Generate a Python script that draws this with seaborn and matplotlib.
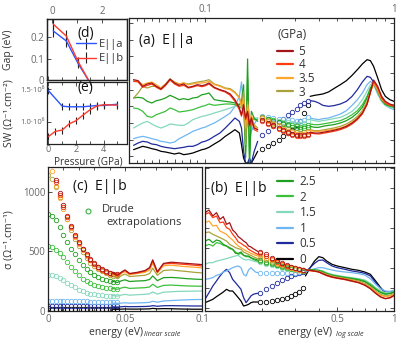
import numpy as np
import pandas as pd
import matplotlib
matplotlib.use("Agg")
import matplotlib.pyplot as plt
import seaborn as sns
from matplotlib.lines import Line2D
from matplotlib.ticker import FixedLocator, NullFormatter, FixedFormatter, MultipleLocator

sns.set_theme(style="ticks")
plt.rcParams['font.family'] = ['Open Sans', 'DejaVu Sans']

# ---------------- data ----------------
pressures = ['0', '0.5', '1', '1.5', '2', '2.5', '3', '3.5', '4', '5']
colors = {'0': '#000000', '0.5': '#1f2a9c', '1': '#6fb6f2', '1.5': '#86d8bc',
          '2': '#3cbf3c', '2.5': '#1f9f1f', '3': '#a9a23c', '3.5': '#ffa62b',
          '4': '#ff3b12', '5': '#a3141a'}

# (a) E||a : measured part (low energy, incl. opaque window)
E_a1 = [0.053, 0.056, 0.059, 0.062, 0.065, 0.068, 0.071, 0.074, 0.077, 0.080, 0.083, 0.086,
        0.089, 0.092, 0.095, 0.098, 0.105, 0.112, 0.120, 0.128, 0.136, 0.144, 0.152,
        0.156, 0.160, 0.164, 0.168, 0.172, 0.176, 0.182, 0.190]
sig_a1 = {
    '5':   [250, 247, 230, 237, 240, 230, 222, 235, 252, 240, 233, 237, 227, 230, 235, 232, 240, 227, 220, 215, 207, 190, 165, 145, 175, 135, 155, 115, 135, 105, 100],
    '4':   [245, 243, 227, 233, 237, 227, 220, 232, 249, 237, 230, 233, 225, 228, 232, 229, 237, 225, 218, 213, 203, 185, 160, 140, 170, 130, 150, 110, 130, 100, 95],
    '3.5': [247, 245, 235, 240, 243, 235, 225, 237, 250, 243, 237, 240, 235, 237, 240, 240, 245, 235, 230, 223, 220, 210, 195, 165, 195, 105, 175, 125, 145, 110, 100],
    '3':   [195, 210, 230, 225, 230, 230, 225, 237, 252, 243, 237, 240, 237, 240, 243, 245, 250, 237, 232, 225, 223, 213, 197, 175, 215, 55, 185, 135, 135, 115, 105],
    '2.5': [195, 197, 195, 185, 180, 187, 190, 195, 203, 197, 190, 193, 190, 195, 197, 205, 210, 190, 187, 185, 183, 180, 175, 185, 235, 15, 312, 0, 155, 135, 125],
    '2':   [165, 163, 155, 140, 137, 145, 150, 155, 165, 160, 153, 155, 157, 160, 165, 170, 177, 173, 175, 177, 177, 175, 170, 165, 195, 35, 255, 15, 135, 130, 130],
    '1.5': [105, 113, 120, 125, 117, 110, 105, 110, 117, 115, 113, 113, 120, 130, 135, 140, 145, 150, 155, 160, 165, 170, 173, 165, 185, 105, 175, 115, 135, 135, 135],
    '1':   [73, 77, 80, 77, 73, 70, 65, 63, 60, 63, 73, 80, 87, 95, 100, 105, 113, 120, 130, 140, 150, 170, 200, 243, 155, 55, 135, 75, 95, 115, 135],
    '0.5': [53, 60, 65, 63, 57, 55, 50, 47, 45, 43, 45, 47, 50, 50, 55, 63, 70, 80, 90, 105, 120, 135, 125, 105, 35, 0, 0, 15, 0, 35, 65],
    '0':   [40, 45, 50, 47, 43, 40, 35, 33, 30, 27, 30, 25, 27, 30, 35, 40, 47, 57, 67, 80, 90, 100, 90, 55, 15, 0, 0, 5, 0, 15, 35],
}
# (a) extrapolated part (circles)
E_a_c = [0.200, 0.215, 0.230, 0.245, 0.260, 0.275, 0.290, 0.305, 0.320, 0.335, 0.350]
sig_a_c = {
    '5':   [130, 120, 113, 105, 98, 93, 88, 85, 83, 85, 88],
    '4':   [127, 117, 110, 102, 95, 90, 85, 82, 80, 82, 85],
    '3.5': [135, 125, 117, 110, 103, 97, 92, 88, 86, 88, 92],
    '3':   [137, 128, 120, 113, 107, 101, 97, 93, 91, 93, 97],
    '2.5': [137, 133, 127, 122, 117, 113, 109, 105, 103, 105, 108],
    '2':   [135, 132, 128, 124, 120, 117, 114, 111, 109, 111, 115],
    '1.5': [135, 133, 130, 127, 124, 122, 120, 118, 117, 119, 125],
    '1':   [140, 137, 135, 133, 131, 129, 128, 127, 127, 130, 137],
    '0.5': [85, 97, 110, 122, 133, 143, 153, 163, 173, 180, 185],
    '0':   [43, 50, 60, 70, 80, 90, 100, 113, 127, 150, 175],
}
# (a) measured part (high energy)
E_a2 = [0.36, 0.38, 0.40, 0.42, 0.45, 0.48, 0.52, 0.56, 0.60, 0.64, 0.68, 0.72, 0.75, 0.78,
        0.82, 0.86, 0.90, 0.95, 1.00]
sig_a2 = {
    '5':   [92, 90, 90, 92, 95, 98, 103, 110, 120, 133, 150, 177, 213, 249, 230, 200, 185, 177, 173],
    '4':   [90, 88, 87, 89, 92, 95, 100, 107, 117, 130, 147, 175, 210, 245, 225, 195, 180, 173, 170],
    '3.5': [97, 95, 95, 96, 98, 101, 105, 112, 122, 135, 153, 180, 213, 240, 220, 192, 180, 175, 172],
    '3':   [100, 97, 97, 99, 102, 105, 110, 117, 127, 140, 157, 185, 215, 237, 215, 190, 180, 175, 173],
    '2.5': [110, 107, 107, 110, 113, 115, 120, 127, 137, 150, 167, 195, 223, 240, 215, 190, 177, 172, 170],
    '2':   [117, 115, 115, 117, 120, 123, 127, 135, 145, 157, 175, 200, 225, 240, 213, 187, 175, 170, 167],
    '1.5': [130, 127, 125, 127, 130, 133, 137, 145, 155, 170, 190, 215, 235, 240, 210, 185, 173, 167, 163],
    '1':   [135, 132, 130, 133, 135, 140, 147, 157, 173, 190, 210, 235, 245, 235, 207, 185, 173, 165, 160],
    '0.5': [187, 185, 180, 173, 170, 172, 177, 185, 200, 220, 243, 260, 257, 243, 217, 195, 180, 173, 167],
    '0':   [200, 203, 205, 207, 213, 223, 235, 247, 263, 280, 297, 310, 307, 290, 255, 220, 200, 190, 185],
}

# (b) E||b, log scale
E_b1 = [0.100, 0.105, 0.110, 0.115, 0.120, 0.125, 0.130, 0.135, 0.140, 0.145, 0.150, 0.155,
        0.160, 0.165, 0.170, 0.175, 0.180, 0.185, 0.190]
sig_b1 = {
    '5':   [295, 303, 285, 295, 275, 283, 260, 265, 243, 235, 223, 217, 210, 205, 195, 192, 187, 183, 179],
    '4':   [290, 295, 280, 285, 265, 267, 250, 245, 230, 220, 207, 203, 197, 193, 185, 181, 177, 173, 170],
    '3.5': [265, 270, 255, 257, 240, 235, 230, 220, 213, 203, 195, 190, 185, 180, 177, 173, 170, 167, 165],
    '3':   [235, 237, 230, 225, 220, 215, 210, 200, 195, 190, 187, 185, 177, 173, 170, 167, 163, 160, 157],
    '2.5': [210, 215, 205, 213, 210, 200, 195, 190, 185, 173, 173, 177, 167, 165, 165, 160, 157, 155, 153],
    '2':   [195, 200, 195, 205, 203, 197, 195, 187, 185, 177, 170, 173, 167, 163, 163, 159, 155, 152, 150],
    '1.5': [140, 145, 145, 150, 152, 155, 157, 160, 163, 165, 167, 160, 155, 153, 155, 152, 150, 148, 147],
    '1':   [95, 97, 100, 107, 110, 117, 120, 125, 130, 133, 135, 130, 110, 105, 123, 130, 123, 117, 115],
    '0.5': [35, 55, 75, 90, 105, 117, 125, 115, 95, 85, 75, 65, 40, 25, 35, 45, 50, 52, 53],
    '0':   [25, 30, 35, 43, 50, 57, 65, 60, 60, 50, 40, 30, 15, 17, 20, 25, 27, 27, 27],
}
E_b_c = [0.195, 0.210, 0.225, 0.240, 0.255, 0.270, 0.285, 0.300, 0.315, 0.330]
sig_b_c = {
    '5':   [177, 170, 160, 152, 144, 137, 133, 130, 127, 124],
    '4':   [173, 165, 155, 148, 141, 135, 131, 128, 125, 123],
    '3.5': [167, 160, 152, 145, 139, 134, 130, 127, 124, 122],
    '3':   [158, 153, 147, 142, 137, 132, 129, 126, 123, 121],
    '2.5': [153, 148, 143, 139, 135, 131, 128, 125, 123, 121],
    '2':   [150, 145, 141, 137, 133, 130, 127, 125, 123, 121],
    '1.5': [147, 142, 138, 134, 130, 127, 125, 124, 123, 122],
    '1':   [115, 115, 114, 113, 113, 113, 114, 115, 117, 119],
    '0.5': [53, 65, 75, 85, 93, 100, 106, 111, 115, 118],
    '0':   [27, 28, 30, 33, 36, 40, 45, 50, 57, 70],
}
E_b2 = [0.34, 0.36, 0.38, 0.40, 0.42, 0.44, 0.47, 0.50, 0.55, 0.60, 0.65, 0.70, 0.75, 0.80,
        0.85, 0.90, 0.95, 1.00]
sig_b2 = {
    '5':   [124, 122, 120, 117, 112, 107, 102, 99, 95, 90, 85, 78, 67, 53, 42, 37, 40, 47],
    '4':   [123, 121, 119, 117, 111, 106, 101, 98, 94, 89, 85, 77, 67, 53, 42, 37, 39, 45],
    '3.5': [122, 121, 120, 118, 113, 108, 103, 100, 96, 92, 87, 80, 70, 57, 47, 43, 45, 50],
    '3':   [122, 122, 121, 119, 115, 110, 105, 102, 98, 94, 90, 83, 73, 60, 50, 45, 47, 53],
    '2.5': [123, 124, 123, 121, 117, 112, 107, 104, 100, 97, 93, 88, 77, 65, 55, 50, 52, 57],
    '2':   [122, 123, 123, 122, 119, 113, 108, 105, 101, 98, 95, 90, 80, 67, 57, 52, 53, 57],
    '1.5': [122, 123, 123, 123, 120, 115, 110, 107, 103, 100, 97, 93, 83, 70, 60, 55, 55, 59],
    '1':   [119, 123, 127, 130, 130, 127, 123, 120, 117, 115, 112, 108, 97, 80, 67, 60, 59, 62],
    '0.5': [117, 130, 143, 152, 153, 145, 135, 130, 125, 120, 117, 113, 105, 85, 67, 57, 57, 60],
    '0':   [105, 130, 150, 163, 160, 150, 140, 135, 130, 125, 122, 117, 110, 90, 70, 55, 53, 57],
}

# (c) E||b, linear scale, sigma in Ohm^-1 cm^-1
E_c_drude = [0, 0.0025, 0.005, 0.0075, 0.01, 0.0125, 0.015, 0.0175, 0.02, 0.0225, 0.025,
             0.0275, 0.03, 0.0325, 0.035, 0.0375, 0.04, 0.0425, 0.045]
sig_c_drude = {
    '5':   [1400, 1250, 1100, 990, 890, 800, 715, 640, 580, 525, 475, 435, 400, 372, 350, 335, 322, 315, 308],
    '4':   [1380, 1230, 1085, 975, 878, 790, 705, 632, 572, 518, 470, 430, 395, 368, 346, 331, 318, 311, 304],
    '3.5': [1300, 1180, 1050, 950, 860, 775, 695, 625, 565, 512, 465, 425, 392, 365, 343, 328, 315, 308, 300],
    '3':   [1140, 1110, 1040, 960, 870, 770, 680, 605, 545, 495, 444, 405, 375, 350, 333, 318, 305, 297, 290],
    '2.5': [819, 800, 765, 705, 640, 580, 525, 475, 425, 385, 353, 325, 302, 285, 272, 262, 253, 247, 243],
    '2':   [547, 535, 512, 485, 450, 412, 372, 335, 300, 272, 250, 233, 220, 210, 203, 196, 190, 186, 183],
    '1.5': [306, 300, 290, 278, 260, 238, 218, 200, 180, 165, 153, 145, 139, 134, 131, 128, 126, 124, 122],
    '1':   [85, 84, 84, 83, 83, 82, 82, 81, 81, 80, 80, 79, 79, 78, 78, 77, 77, 76, 76],
    '0.5': [45, 45, 44, 44, 44, 43, 43, 43, 42, 42, 42, 41, 41, 41, 40, 40, 40, 39, 39],
    '0':   [22, 21, 21, 20, 20, 20, 19, 19, 19, 18, 18, 18, 18, 17, 17, 17, 17, 16, 16],
}
E_c = [0.042, 0.045, 0.048, 0.050, 0.053, 0.058, 0.063, 0.066, 0.068, 0.071, 0.075, 0.080,
       0.085, 0.090, 0.095, 0.100]
sig_c = {
    '5':   [320, 300, 330, 345, 315, 325, 340, 365, 430, 330, 400, 410, 405, 400, 395, 390],
    '4':   [315, 295, 325, 340, 312, 320, 335, 360, 420, 325, 395, 400, 395, 390, 385, 378],
    '3.5': [305, 290, 318, 330, 305, 315, 325, 345, 400, 320, 380, 385, 378, 372, 368, 362],
    '3':   [295, 275, 300, 310, 290, 295, 300, 315, 360, 300, 340, 345, 338, 332, 325, 320],
    '2.5': [250, 240, 255, 262, 248, 252, 255, 265, 295, 255, 280, 282, 278, 272, 268, 265],
    '2':   [190, 182, 195, 200, 190, 193, 196, 202, 225, 198, 215, 218, 214, 211, 209, 208],
    '1.5': [130, 125, 135, 140, 133, 137, 140, 145, 160, 142, 158, 162, 165, 166, 167, 168],
    '1':   [66, 64, 67, 69, 66, 68, 70, 73, 82, 74, 84, 88, 91, 94, 96, 97],
    '0.5': [35, 33, 36, 38, 36, 37, 38, 40, 45, 40, 44, 45, 44, 43, 42, 42],
    '0':   [15, 14, 16, 17, 16, 16, 17, 18, 22, 18, 20, 19, 17, 16, 15, 15],
}

# (d) gap and (e) spectral weight vs pressure
p_gap = [0.35, 1.3, 2.15, 2.9]
gap_a = [0.230, 0.183, 0.078, 0.0]
gap_b = [0.262, 0.206, 0.087, 0.0]
gap_err = [0.028, 0.028, 0.022, 0.0]
p_sw_a = [0, 1, 1.5, 2, 2.5, 3, 3.5, 4, 5]
sw_a = [1.48e6, 1.24e6, 1.23e6, 1.23e6, 1.23e6, 1.24e6, 1.25e6, 1.25e6, 1.27e6]
p_sw_b = [0, 0.5, 1, 1.5, 2, 2.5, 3, 3.5, 4, 5]
sw_b = [0.77e6, 0.85e6, 0.87e6, 0.965e6, 1.015e6, 1.10e6, 1.18e6, 1.24e6, 1.262e6, 1.255e6]
sw_err = 0.055e6


def long_df(E, table):
    rows = []
    for p in pressures:
        vals = table[p]
        assert len(vals) == len(E), (p, len(vals), len(E))
        for e, v in zip(E, vals):
            rows.append((e, v, p))
    return pd.DataFrame(rows, columns=['E', 'sigma', 'P'])


def draw_lines(ax, df, lw=0.9):
    sns.lineplot(data=df, x='E', y='sigma', hue='P', hue_order=pressures, palette=colors,
                 estimator=None, sort=False, lw=lw, legend=False, ax=ax)


def draw_circles(ax, df):
    n0 = len(ax.lines)
    sns.lineplot(data=df, x='E', y='sigma', hue='P', hue_order=pressures, palette=colors,
                 estimator=None, sort=False, linestyle='none', marker='o', markersize=3.2,
                 markerfacecolor='none', markeredgewidth=0.6, legend=False, ax=ax)
    for ln in ax.lines[n0:]:
        ln.set_markeredgecolor(ln.get_color())
        ln.set_markerfacecolor('none')


# ---------------- figure ----------------
W, H = 397, 343
fig = plt.figure(figsize=(W / 100, H / 100), dpi=100)


def rect(x0, y0, x1, y1):
    return [x0 / W, 1 - y1 / H, (x1 - x0) / W, (y1 - y0) / H]


ax_d = fig.add_axes(rect(47, 19, 127, 80))
ax_e = fig.add_axes(rect(47, 82, 127, 144))
ax_al = fig.add_axes(rect(129, 18, 205, 163))
ax_ag = fig.add_axes(rect(205, 18, 394, 163))
ax_c = fig.add_axes(rect(48, 167, 202, 311))
ax_b = fig.add_axes(rect(205, 167, 394, 311))

TXT = '#333333'
TICK = '#666666'

for ax in [ax_d, ax_e, ax_al, ax_ag, ax_c, ax_b]:
    ax.tick_params(which='both', direction='in', top=True, right=True, color='#333333',
                   labelcolor=TICK, labelsize=7, width=0.6, pad=2)
    ax.tick_params(which='major', length=3)
    ax.tick_params(which='minor', length=2)
    for s in ax.spines.values():
        s.set_linewidth(0.9)
        s.set_color('#222222')

# ----- panel (a)
dfa1 = long_df(E_a1, sig_a1)
dfac = long_df(E_a_c, sig_a_c)
dfa2 = long_df(E_a2, sig_a2)
for ax in (ax_al, ax_ag):
    draw_lines(ax, dfa1)
    draw_circles(ax, dfac)
    draw_lines(ax, dfa2)
    ax.set_ylim(0, 435)
    ax.yaxis.set_major_locator(FixedLocator(np.arange(20, 435, 50)))
    ax.yaxis.set_major_formatter(NullFormatter())
    ax.set_xlabel('')
    ax.set_ylabel('')
ax_al.set_xlim(0.05, 0.1)
ax_al.spines['right'].set_visible(False)
ax_al.tick_params(axis='y', right=False)
ax_al.xaxis.set_major_locator(MultipleLocator(0.01))
ax_al.xaxis.set_minor_locator(MultipleLocator(0.005))
ax_al.xaxis.set_major_formatter(NullFormatter())

ax_ag.set_xscale('log')
ax_ag.set_xlim(0.1, 1)
ax_ag.spines['left'].set_visible(False)
ax_ag.tick_params(axis='y', left=False)
ax_ag.xaxis.set_major_locator(FixedLocator([0.1, 1]))
ax_ag.xaxis.set_major_formatter(FixedFormatter(['0.1', '1']))
ax_ag.xaxis.set_minor_locator(FixedLocator([0.2, 0.3, 0.4, 0.5, 0.6, 0.7, 0.8, 0.9]))
ax_ag.xaxis.set_minor_formatter(NullFormatter())
ax_ag.tick_params(axis='x', labeltop=True, labelbottom=False)

a_labels = ['5', '4', '3.5', '3']
hand_a = [Line2D([], [], color=colors[p], lw=1.6) for p in a_labels]
lg = ax_ag.legend(hand_a, a_labels, loc='upper left',
                  bbox_to_anchor=(0.38, 0.815), frameon=False, fontsize=8.5,
                  handlelength=1.4, handletextpad=0.45,
                  labelspacing=0.05, borderpad=0, borderaxespad=0)
for t in lg.get_texts():
    t.set_color(TXT)

# ----- panel (b)
draw_lines(ax_b, long_df(E_b1, sig_b1))
draw_circles(ax_b, long_df(E_b_c, sig_b_c))
draw_lines(ax_b, long_df(E_b2, sig_b2))
ax_b.set_xscale('log')
ax_b.set_xlim(0.1, 1)
ax_b.set_ylim(0, 432)
ax_b.yaxis.set_major_locator(FixedLocator(np.arange(10, 432, 60)))
ax_b.yaxis.set_major_formatter(NullFormatter())
ax_b.xaxis.set_major_locator(FixedLocator([0.1, 0.5, 1]))
ax_b.xaxis.set_major_formatter(FixedFormatter(['', '0.5', '1']))
ax_b.xaxis.set_minor_locator(FixedLocator([0.2, 0.3, 0.4, 0.6, 0.7, 0.8, 0.9]))
ax_b.xaxis.set_minor_formatter(NullFormatter())
ax_b.set_xlabel('')
ax_b.set_ylabel('')
b_labels = ['2.5', '2', '1.5', '1', '0.5', '0']
hand_b = [Line2D([], [], color=colors[p], lw=1.6) for p in b_labels]
lgb = ax_b.legend(hand_b, b_labels, loc='upper left', bbox_to_anchor=(0.38, 0.945),
                  frameon=False, fontsize=8.5, handlelength=1.4, handletextpad=0.55,
                  labelspacing=0.22, borderpad=0, borderaxespad=0)
for t in lgb.get_texts():
    t.set_color(TXT)

# ----- panel (c)
draw_circles(ax_c, long_df(E_c_drude, sig_c_drude))
draw_lines(ax_c, long_df(E_c, sig_c))
ax_c.set_xlim(0, 0.1)
ax_c.set_ylim(0, 1210)
ax_c.xaxis.set_major_locator(FixedLocator([0, 0.05, 0.1]))
ax_c.xaxis.set_major_formatter(FixedFormatter(['0', '0.05', '0.1']))
ax_c.xaxis.set_minor_locator(MultipleLocator(0.01))
ax_c.yaxis.set_major_locator(FixedLocator([0, 500, 1000]))
ax_c.yaxis.set_major_formatter(FixedFormatter(['0', '500', '1000']))
ax_c.tick_params(axis='y', right=False)
ax_c.set_xlabel('')
ax_c.set_ylabel('')
ax_c.plot([0.026], [843], ls='none', marker='o', ms=3.5, mfc='none', mew=0.8, color='#3cb043')

# ----- panel (d)
ax_d.errorbar(p_gap, gap_a, yerr=gap_err, color='#2a55ff', ecolor='#222222', elinewidth=0.8,
              lw=1.0, capsize=0, label='E||a')
ax_d.errorbar(p_gap, gap_b, yerr=gap_err, color='#ff3a2a', ecolor='#222222', elinewidth=0.8,
              lw=1.0, capsize=0, label='E||b')
ax_d.set_xlim(-0.1, 5.7)
ax_d.set_ylim(0, 0.286)
ax_d.yaxis.set_major_locator(FixedLocator([0, 0.1, 0.2]))
ax_d.yaxis.set_major_formatter(FixedFormatter(['0', '0.1', '0.2']))
ax_d.xaxis.set_major_locator(MultipleLocator(2))
ax_d.xaxis.set_minor_locator(MultipleLocator(1))
ax_d.xaxis.set_major_formatter(NullFormatter())
ax_d.tick_params(axis='x', top=False)
ax_d.tick_params(axis='y', right=False)
ax_dt = ax_d.twiny()
ax_dt.set_xlim(-0.2, 3.0)
ax_dt.xaxis.set_major_locator(FixedLocator([0, 2]))
ax_dt.xaxis.set_minor_locator(FixedLocator([1, 3]))
ax_dt.tick_params(which='both', direction='in', color='#333333', labelcolor=TICK,
                  labelsize=7, width=0.6, pad=1.5)
ax_dt.tick_params(which='major', length=3)
ax_dt.tick_params(which='minor', length=3)
for s in ax_dt.spines.values():
    s.set_linewidth(0.9)
    s.set_color('#222222')
lgd = ax_d.legend(loc='upper left', bbox_to_anchor=(0.36, 0.67), frameon=False, fontsize=8,
                  handlelength=1.8, handletextpad=0.3, labelspacing=0.3, borderpad=0,
                  borderaxespad=0)
for t in lgd.get_texts():
    t.set_color(TXT)

# ----- panel (e)
ax_e.errorbar(p_sw_a, sw_a, yerr=sw_err, color='#2a55ff', ecolor='#222222', elinewidth=0.8,
              lw=1.0, capsize=0)
ax_e.errorbar(p_sw_b, sw_b, yerr=sw_err, color='#ff3a2a', ecolor='#222222', elinewidth=0.8,
              lw=1.0, capsize=0)
ax_e.set_xlim(-0.1, 5.7)
ax_e.set_ylim(0.655e6, 1.613e6)
ax_e.xaxis.set_major_locator(FixedLocator([0, 2, 4]))
ax_e.xaxis.set_major_formatter(FixedFormatter(['0', '2', '4']))
ax_e.xaxis.set_minor_locator(FixedLocator([1, 3, 5]))
ax_e.yaxis.set_major_locator(FixedLocator([1.0e6, 1.5e6]))
ax_e.yaxis.set_major_formatter(FixedFormatter(['1.0·10⁶', '1.5·10⁶']))
ax_e.tick_params(axis='y', labelsize=5.5, right=False)
ax_e.tick_params(axis='x', pad=0.5, labelsize=6.5)

# ---------------- texts ----------------
def ftext(x, y, s, **kw):
    kw.setdefault('color', TXT)
    fig.text(x / W, 1 - y / H, s, **kw)

ftext(139, 40, '(a)  E||a', fontsize=10, va='center', ha='left', color='#111111')
ftext(211, 189, '(b)  E||b', fontsize=10, va='center', ha='left', color='#111111')
ftext(73, 187, '(c)  E||b', fontsize=10, va='center', ha='left', color='#111111')
ftext(78, 33, '(d)', fontsize=10, va='center', ha='left', color='#111111')
ftext(78, 88, '(e)', fontsize=10, va='center', ha='left', color='#111111')
ftext(277, 34, '(GPa)', fontsize=8.5, va='center', ha='left')
ftext(102, 210, 'Drude', fontsize=8, va='center', ha='left')
ftext(106, 223, 'extrapolations', fontsize=8, va='center', ha='left')

ftext(9, 50, 'Gap (eV)', fontsize=7.5, rotation=90, va='center', ha='center')
ftext(9, 113, 'SW (Ω⁻¹.cm⁻²)', fontsize=7.5, rotation=90, va='center', ha='center')
ftext(88, 162, 'Pressure (GPa)', fontsize=7.2, va='center', ha='center')
ftext(9, 240, 'σ (Ω⁻¹.cm⁻¹)', fontsize=7.5, rotation=90, va='center', ha='center')
ftext(143, 333, 'energy (eV)', fontsize=7.5, va='center', ha='right')
ftext(144, 335, 'linear scale', fontsize=5.2, style='italic', va='center', ha='left')
ftext(332, 333, 'energy (eV)', fontsize=7.5, va='center', ha='right')
ftext(336, 335, 'log scale', fontsize=5.2, style='italic', va='center', ha='left')

fig.savefig('out.png', dpi=100)
